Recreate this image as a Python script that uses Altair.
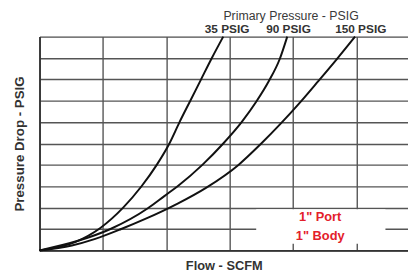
import altair as alt
import pandas as pd

# Flow (grid units) vs pressure drop (grid units)
flow_35 = [0, 0.57, 0.96, 1.32, 1.61, 1.85, 2.05, 2.21, 2.38, 2.55, 2.72, 2.90]
drop_35 = [0, 0.40, 1.05, 2.0, 3.0, 4.0, 5.0, 6.0, 7.0, 8.0, 9.0, 10.0]

flow_90 = [0, 0.62, 1.12, 1.71, 1.97, 2.18, 2.57, 2.90, 3.19, 3.42, 3.62, 3.79, 3.91]
drop_90 = [0, 0.46, 1.0, 1.97, 2.54, 3.0, 4.0, 5.0, 6.0, 6.95, 7.92, 8.94, 10.0]

flow_150 = [0, 0.51, 0.88, 1.29, 1.66, 2.18, 2.64, 3.14, 3.50, 3.81, 4.12, 4.40, 4.69, 4.98]
drop_150 = [0, 0.23, 0.54, 1.0, 1.46, 2.19, 2.95, 4.0, 5.0, 5.94, 6.95, 7.92, 8.94, 10.0]

series_names = ["35 PSIG", "90 PSIG", "150 PSIG"]
label_flow = [2.96, 3.93, 5.07]
legend_title = "Primary Pressure - PSIG"
legend_title_flow = 3.97

note_lines = ['1" Port', '1" Body']
note_flow = [4.43, 4.43]
note_drop = [1.57, 0.69]
note_box = {"x": 3.42, "x2": 5.46, "y": 0.31, "y2": 1.92}

x_ticks = [0, 1, 2, 3, 4, 5]
y_ticks = [0, 1, 2, 3, 4, 5, 6, 7, 8, 9, 10]

rows = []
for name, fl, dr in zip(series_names, [flow_35, flow_90, flow_150], [drop_35, drop_90, drop_150]):
    for i, (f, d) in enumerate(zip(fl, dr)):
        rows.append({"series": name, "flow": f, "drop": d, "i": i})
df = pd.DataFrame(rows)

FONT = "Liberation Sans"
xscale = alt.Scale(domain=[0, 5.816], nice=False, zero=False)
yscale = alt.Scale(domain=[0, 10], nice=False)

xaxis = alt.Axis(values=x_ticks, labels=False, ticks=False, grid=True,
                 gridColor="#555555", gridWidth=1.4, domainColor="#333333", domainWidth=1.8,
                 title="Flow - SCFM", titleFont=FONT, titleFontSize=13, titleFontWeight="bold",
                 titleColor="#333333", titlePadding=9)
yaxis = alt.Axis(values=y_ticks, labels=False, ticks=False, grid=True,
                 gridColor="#555555", gridWidth=1.4, domainColor="#333333", domainWidth=1.8,
                 title="Pressure Drop - PSIG", titleFont=FONT, titleFontSize=13.5,
                 titleFontWeight="bold", titleColor="#333333", titlePadding=13)


def X(field):
    return alt.X(field, scale=xscale, axis=xaxis)


def Y(field):
    return alt.Y(field, scale=yscale, axis=yaxis)


lines = alt.Chart(df).mark_line(color="#111111", strokeWidth=2, interpolate="monotone").encode(
    x=X("flow:Q"),
    y=Y("drop:Q"),
    detail="series:N",
    order="i:Q",
)

lab_df = pd.DataFrame({"name": series_names, "flow": label_flow, "drop": [10] * 3})
labels = alt.Chart(lab_df).mark_text(font=FONT, fontSize=12, fontWeight="bold",
                                     color="#333333", dy=-8).encode(
    x=X("flow:Q"), y=Y("drop:Q"), text="name:N")

ttl_df = pd.DataFrame({"name": [legend_title], "flow": [legend_title_flow], "drop": [10]})
ttl = alt.Chart(ttl_df).mark_text(font=FONT, fontSize=12.5, color="#3a3a3a", dy=-21).encode(
    x=X("flow:Q"), y=Y("drop:Q"), text="name:N")

box_df = pd.DataFrame([note_box])
box = alt.Chart(box_df).mark_rect(color="white").encode(
    x=X("x:Q"), x2="x2:Q", y=Y("y:Q"), y2="y2:Q")

note_df = pd.DataFrame({"t": note_lines, "flow": note_flow, "drop": note_drop})
note = alt.Chart(note_df).mark_text(font=FONT, fontSize=13, fontWeight="bold", color="#e3202a").encode(
    x=X("flow:Q"), y=Y("drop:Q"), text="t:N")

chart = alt.layer(lines, box, labels, ttl, note).properties(
    width=374, height=217,
    padding={"left": 32, "top": 27, "right": 0, "bottom": 27},
    autosize=alt.AutoSizeParams(type="none"),
).configure_view(stroke=None).configure(background="white")

chart.save("out.html", embed_options={"renderer": "svg", "actions": False})
